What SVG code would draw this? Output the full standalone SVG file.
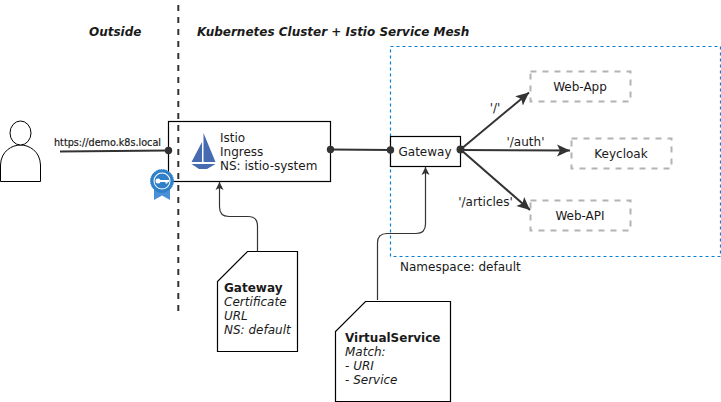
<svg xmlns="http://www.w3.org/2000/svg" width="721" height="402" viewBox="0 0 721 402">
<style>
text{font-family:"DejaVu Sans",sans-serif;font-size:12px;fill:#1a1a1a}
.b{fill:#fff;stroke:#000;stroke-width:1.2}
.svc{fill:#fff;stroke:#b3b3b3;stroke-width:2;stroke-dasharray:6 6}
.conn{fill:none;stroke:#333;stroke-width:2}
.thin{fill:none;stroke:#333;stroke-width:1.2}
.hd{font-weight:bold;font-style:italic}
.i{font-style:italic}
.m{text-anchor:middle}
</style>
<defs>
<marker id="big" markerUnits="userSpaceOnUse" markerWidth="16" markerHeight="14" refX="13" refY="6" orient="auto" viewBox="0 0 16 12"><path d="M0 0L13 6L0 12L3 6Z" fill="#333"/></marker>
<marker id="small" markerUnits="userSpaceOnUse" markerWidth="10" markerHeight="10" refX="8" refY="4" orient="auto" viewBox="0 0 10 8"><path d="M0 0L8 4L0 8L2 4Z" fill="#333"/></marker>
</defs>
<text class="hd" x="89" y="36">Outside</text>
<text class="hd" x="197" y="36">Kubernetes Cluster + Istio Service Mesh</text>
<rect x="390.5" y="46.5" width="330" height="210" fill="none" stroke="#0a7fd6" stroke-width="1.2" stroke-dasharray="3 3"/>
<text x="400" y="271">Namespace: default</text>
<g id="user">
<path d="M0.5 181.500V165C1 151 12 145 20.500 145C29 145 40 151 40.500 165V181.500Z" fill="#fff" stroke="#000" stroke-width="1"/>
<ellipse cx="20.500" cy="133" rx="10.500" ry="12" fill="#fff" stroke="#000" stroke-width="1"/>
</g>
<g id="ingress">
<rect class="b" x="168.500" y="121.500" width="162" height="60"/>
<path d="M203.500 133L215.500 162H203.500Z M202 142V162H191.500Z" fill="#466bb0"/>
<path d="M191.500 164H215.500L207 169H199Z" fill="#466bb0"/>
<text x="220" y="141.500">Istio</text>
<text x="220" y="156">Ingress</text>
<text x="220" y="170">NS: istio-system</text>
</g>
<path d="M178.300 5V312" fill="none" stroke="#333" stroke-width="2" stroke-dasharray="6 6"/>
<g id="cert">
<path d="M154 185V200L162 195.500L170 200V185Z" fill="#4a90d9"/>
<circle cx="162" cy="181" r="11.500" fill="#2f80c8" stroke="#2f80c8" stroke-dasharray="1.500 1"/>
<circle cx="162" cy="181" r="8.500" fill="#fff"/>
<circle cx="162" cy="181" r="7.500" fill="#2f80c8"/>
<circle cx="158" cy="181" r="2.500" fill="#fff"/>
<path d="M159 180H169V182H167.500V183.500H165.500V182H159Z" fill="#fff"/>
</g>
<g id="gateway"><rect class="b" x="390.500" y="136.500" width="70" height="30"/><text class="m" x="425" y="156">Gateway</text></g>
<g id="web-app"><rect class="svc" x="530.500" y="71.500" width="100" height="30"/><text class="m" x="580" y="91">Web-App</text></g>
<g id="keycloak"><rect class="svc" x="571.500" y="138.500" width="100" height="30"/><text class="m" x="621" y="158">Keycloak</text></g>
<g id="web-api"><rect class="svc" x="530.500" y="200.500" width="100" height="30"/><text class="m" x="580" y="220">Web-API</text></g>
<g id="gateway-note"><path class="b" d="M247.500 251.500H297.500V351.500H217.500V281.500Z"/>
<text x="224" y="292" style="font-weight:bold">Gateway</text>
<text class="i" x="224" y="306">Certificate</text>
<text class="i" x="224" y="320">URL</text>
<text class="i" x="224" y="334">NS: default</text></g>
<g id="vs-note"><path class="b" d="M365.500 301.500H450.500V401.500H335.500V331.500Z"/>
<text x="345" y="342" style="font-weight:bold">VirtualService</text>
<text class="i" x="345" y="356">Match:</text>
<text class="i" x="345" y="370">- URI</text>
<text class="i" x="345" y="384">- Service</text></g>
<g id="connectors">
<path class="conn" d="M60 151.500L168.500 150.500"/>
<circle cx="168.500" cy="150.500" r="3.700" fill="#333"/>
<path class="conn" d="M330.500 149.500L390.500 150"/>
<circle cx="330.500" cy="149.500" r="3.700" fill="#333"/>
<circle cx="390.500" cy="150" r="3.700" fill="#333"/>
<circle cx="460.500" cy="149.500" r="4" fill="#333"/>
<path class="conn" d="M460.500 149.500L529 92.500" marker-end="url(#big)"/>
<path class="conn" d="M460.500 150L570 150.500" marker-end="url(#big)"/>
<path class="conn" d="M460.500 149.500L530 210" marker-end="url(#big)"/>
<path class="thin" d="M257.500 251.500V226Q257.500 216.500 248 216.500H229Q219.500 216.500 219.500 207V182" marker-end="url(#small)"/>
<path class="thin" d="M377.500 300V243Q377.500 233.500 387 233.500H416Q425.500 233.500 425.500 224V167" marker-end="url(#small)"/>
</g>
<text x="54" y="146" textLength="107" lengthAdjust="spacingAndGlyphs" style="font-size:10px;stroke:#1a1a1a;stroke-width:.2">https://demo.k8s.local</text>
<text class="m" x="495" y="112">'/'</text>
<text class="m" x="525.500" y="146">'/auth'</text>
<text class="m" x="485.500" y="206">'/articles'</text>
</svg>
